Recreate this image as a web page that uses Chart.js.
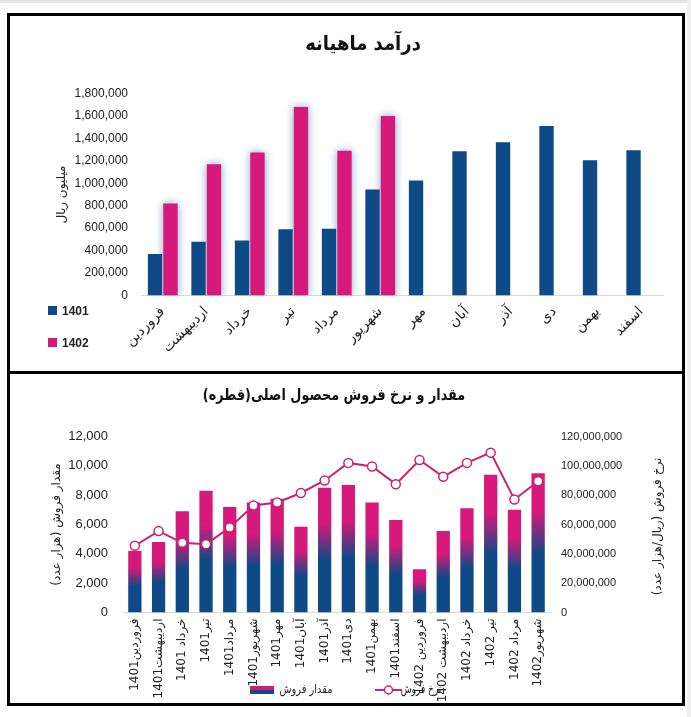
<!DOCTYPE html>
<html>
<head>
<meta charset="utf-8">
<title>revenue</title>
<script src="https://cdn.jsdelivr.net/npm/chart.js@4.4.1/dist/chart.umd.min.js"></script>
<style>
  body { margin: 0; background: #fff; width: 691px; height: 717px; position: relative; overflow: hidden; }
  .strip-top { position: absolute; left: 0; top: 0; width: 691px; height: 3px; background: #e4e4e4; }
  .strip-right { position: absolute; left: 687px; top: 0; width: 4px; height: 717px; background: #eeeeee; }
  .frame { position: absolute; left: 7px; top: 13px; width: 672px; height: 687px; border: 3px solid #000; }
  .mid { position: absolute; left: 7px; top: 371px; width: 678px; height: 3px; background: #000; }
  #revenueChart { position: absolute; left: 10px; top: 16px; }
  #salesChart { position: absolute; left: 10px; top: 374px; }
</style>
</head>
<body>
<div class="strip-top"></div>
<div class="strip-right"></div>
<div class="frame"></div>
<div class="mid"></div>
<canvas id="revenueChart" width="672" height="355" dir="rtl"></canvas>
<canvas id="salesChart" width="672" height="329" dir="rtl"></canvas>

<script>
// --- data: monthly revenue (million rial) ---
var months = ['فروردین', 'اردیبهشت', 'خرداد', 'تیر', 'مرداد', 'شهریور', 'مهر', 'آبان', 'آذر', 'دی', 'بهمن', 'اسفند'];
var revenue1401 = [370000, 480000, 490000, 590000, 595000, 945000, 1025000, 1285000, 1365000, 1510000, 1205000, 1295000];
var revenue1402 = [820000, 1170000, 1275000, 1680000, 1290000, 1600000, null, null, null, null, null, null];
var revenueTicks = { max: 1800000, step: 200000 };

// --- data: sales quantity & rate of main product ---
var periods = ['فروردین1401', 'اردیبهشت1401', 'خرداد 1401', 'تیر1401', 'مرداد1401', 'شهریور1401', 'مهر1401', 'آبان1401', 'آذر1401',
  'دی1401', 'بهمن1401', 'اسفند1401', 'فروردین 1402', 'اردیبهشت 1402', 'خرداد 1402', 'تیر 1402', 'مرداد 1402', 'شهریور1402'];
var salesQty = [4200, 4800, 6900, 8300, 7200, 7500, 7750, 5850, 8500, 8700, 7500, 6300, 2950, 5550, 7100, 9400, 7000, 9500];
var salesRate = [45500000, 55500000, 47500000, 46500000, 58000000, 73000000, 75000000, 81500000, 90000000, 102000000,
  99500000, 87500000, 104000000, 92500000, 102000000, 109000000, 77000000, 89500000];
var qtyTicks = { max: 12000, step: 2000 };
var rateTicks = { max: 120000000, step: 20000000 };

var BLUE = '#0d4a86';
var MAGENTA = '#d6197a';
var LINE = '#c8246f';
var TEXT = '#222';

Chart.defaults.font.family = "'Liberation Sans', 'DejaVu Sans', sans-serif";
Chart.defaults.color = TEXT;

function fmt(v) { return Number(v).toLocaleString('en-US'); }

// squeezed text, the original uses a narrow persian face
function drawSqueezed(ctx, text, x, y, font, squeeze, align) {
  ctx.save();
  ctx.direction = 'rtl';
  ctx.textAlign = align || 'center';
  ctx.textBaseline = 'middle';
  ctx.font = font;
  ctx.translate(x, y);
  ctx.scale(squeeze, 1);
  ctx.fillText(text, 0, 0);
  ctx.restore();
}

// ---------- chart 1 ----------
var revenueDecor = {
  id: 'revenueDecor',
  beforeDatasetDraw: function (chart, args) {
    if (args.index === 1) {
      chart.ctx.save();
      chart.ctx.shadowColor = 'rgba(60,110,175,0.65)';
      chart.ctx.shadowBlur = 8;
    }
  },
  afterDatasetDraw: function (chart, args) {
    if (args.index === 1) chart.ctx.restore();
  },
  afterDraw: function (chart) {
    var ctx = chart.ctx;
    ctx.fillStyle = '#111';
    drawSqueezed(ctx, 'درآمد ماهیانه', 353, 29, 'bold 20px "DejaVu Sans"', 0.9);

    ctx.save();
    ctx.direction = 'ltr';
    ctx.textAlign = 'left';
    ctx.textBaseline = 'middle';
    ctx.font = 'bold 12px "Liberation Sans"';
    chart.data.datasets.forEach(function (ds, i) {
      var y = 294.5 + i * 32;
      ctx.fillStyle = ds.backgroundColor;
      ctx.fillRect(38, y - 4.5, 9, 9);
      ctx.fillStyle = TEXT;
      ctx.fillText(ds.label, 52, y + 1);
    });
    ctx.restore();
  }
};

new Chart(document.getElementById('revenueChart'), {
  type: 'bar',
  data: {
    labels: months,
    datasets: [
      { label: '1401', data: revenue1401, backgroundColor: BLUE, categoryPercentage: 0.71, barPercentage: 0.93 },
      { label: '1402', data: revenue1402, backgroundColor: MAGENTA, categoryPercentage: 0.71, barPercentage: 0.93 }
    ]
  },
  options: {
    responsive: false,
    animation: false,
    layout: { padding: { top: 77.5, right: 19, bottom: 0, left: 0 } },
    plugins: { legend: { display: false }, title: { display: false }, tooltip: { enabled: false } },
    scales: {
      x: {
        grid: { display: false, drawTicks: false },
        border: { display: true, color: '#d9d9d9', width: 1 },
        ticks: { minRotation: 45, maxRotation: 45, autoSkip: false, padding: 8, color: TEXT, font: { size: 14, family: "'DejaVu Sans'" } },
        afterFit: function (s) { s.height = 75.5; }
      },
      y: {
        min: 0,
        max: revenueTicks.max,
        grid: { display: false, drawTicks: false },
        border: { display: false },
        ticks: { stepSize: revenueTicks.step, padding: 13, color: TEXT, font: { size: 12 }, callback: fmt },
        title: { display: true, text: 'میلیون ریال', color: TEXT, font: { size: 12, family: "'DejaVu Sans'" }, padding: { top: 45, bottom: 0 } },
        afterFit: function (s) { s.width = 131; }
      }
    }
  },
  plugins: [revenueDecor]
});

// ---------- chart 2 ----------
function barGradient(c) {
  var chart = c.chart;
  if (c.type !== 'data' || !chart.chartArea) return BLUE;
  var y = chart.scales.y;
  var y0 = y.getPixelForValue(0);
  var y1 = y.getPixelForValue(c.raw);
  var g = chart.ctx.createLinearGradient(0, y0, 0, y1);
  g.addColorStop(0, BLUE);
  g.addColorStop(0.42, BLUE);
  g.addColorStop(0.72, MAGENTA);
  g.addColorStop(1, MAGENTA);
  return g;
}

var salesDecor = {
  id: 'salesDecor',
  afterDraw: function (chart) {
    var ctx = chart.ctx;
    var area = chart.chartArea;
    ctx.fillStyle = '#111';
    drawSqueezed(ctx, 'مقدار و نرخ فروش محصول اصلی(قطره)', 324, 22, 'bold 16px "DejaVu Sans"', 0.8);

    ctx.save();
    ctx.direction = 'rtl';
    ctx.textAlign = 'center';
    ctx.textBaseline = 'middle';

    // right axis title, rotated like the left one
    ctx.save();
    ctx.translate(648, (area.top + area.bottom) / 2 + 2);
    ctx.rotate(-Math.PI / 2);
    ctx.fillStyle = TEXT;
    ctx.font = '12px "DejaVu Sans"';
    ctx.fillText(chart.options.scales.y1.title.text, 0, 0);
    ctx.restore();

    // legend
    var ly = 316;
    var bar = chart.data.datasets[0];
    var line = chart.data.datasets[1];
    var g = ctx.createLinearGradient(0, ly + 4, 0, ly - 4);
    g.addColorStop(0, BLUE);
    g.addColorStop(0.45, BLUE);
    g.addColorStop(0.55, MAGENTA);
    g.addColorStop(1, MAGENTA);
    ctx.fillStyle = g;
    ctx.fillRect(240, ly - 4, 24, 8);
    ctx.fillStyle = TEXT;
    drawSqueezed(ctx, bar.label, 296, ly, '12px "DejaVu Sans"', 0.82);

    ctx.strokeStyle = line.borderColor;
    ctx.lineWidth = 2;
    ctx.beginPath();
    ctx.moveTo(365, ly);
    ctx.lineTo(392, ly);
    ctx.stroke();
    ctx.beginPath();
    ctx.arc(378.5, ly, 4, 0, Math.PI * 2);
    ctx.fillStyle = '#fff';
    ctx.fill();
    ctx.lineWidth = 1.5;
    ctx.stroke();
    ctx.fillStyle = TEXT;
    drawSqueezed(ctx, line.label, 411, ly, '12px "DejaVu Sans"', 0.75);
    ctx.restore();
  }
};

new Chart(document.getElementById('salesChart'), {
  data: {
    labels: periods,
    datasets: [
      { type: 'bar', label: 'مقدار فروش', data: salesQty, yAxisID: 'y', order: 2,
        backgroundColor: barGradient, categoryPercentage: 1, barPercentage: 0.56 },
      { type: 'line', label: 'نرخ فروش', data: salesRate, yAxisID: 'y1', order: 1,
        borderColor: LINE, borderWidth: 2, pointRadius: 4.5, pointBorderWidth: 1.5,
        pointBackgroundColor: '#fff', pointBorderColor: LINE, tension: 0 }
    ]
  },
  options: {
    responsive: false,
    animation: false,
    layout: { padding: { top: 62.5, right: 0, bottom: 0, left: 0 } },
    plugins: { legend: { display: false }, title: { display: false }, tooltip: { enabled: false } },
    scales: {
      x: {
        grid: { display: false, drawTicks: false },
        border: { display: true, color: '#d9d9d9', width: 1 },
        ticks: { minRotation: 90, maxRotation: 90, autoSkip: false, padding: 6, color: TEXT, font: { size: 12, family: "'DejaVu Sans'" } },
        afterFit: function (s) { s.height = 90.5; }
      },
      y: {
        position: 'left',
        min: 0,
        max: qtyTicks.max,
        grid: { display: false, drawTicks: false },
        border: { display: false },
        ticks: { stepSize: qtyTicks.step, padding: 15, color: TEXT, font: { size: 13 }, callback: fmt },
        title: { display: true, text: 'مقدار فروش (هزار عدد)', color: TEXT, font: { size: 12, family: "'DejaVu Sans'" }, padding: { top: 40, bottom: 0 } },
        afterFit: function (s) { s.width = 113; }
      },
      y1: {
        position: 'right',
        min: 0,
        max: rateTicks.max,
        grid: { display: false, drawTicks: false },
        border: { display: false },
        ticks: { stepSize: rateTicks.step, padding: 11, color: TEXT, font: { size: 11 }, callback: fmt },
        title: { display: false, text: 'نرخ فروش (ریال/هزار عدد)' },
        afterFit: function (s) { s.width = 132; }
      }
    }
  },
  plugins: [salesDecor]
});
</script>
</body>
</html>
